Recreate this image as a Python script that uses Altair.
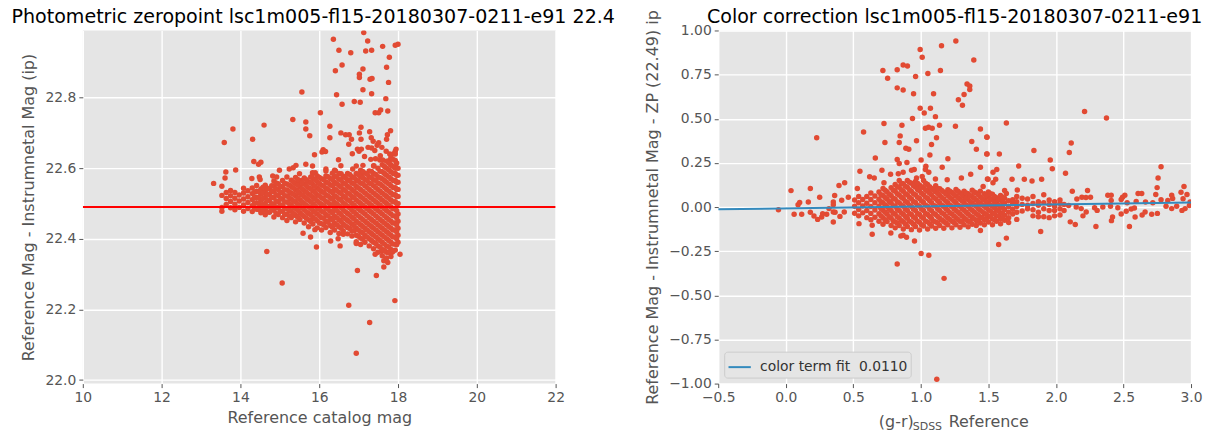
import altair as alt
import pandas as pd

# ---------- left panel: catalog magnitude vs zeropoint ----------
zp_outlier_mag = [16.36,17.13,17.23,17.61,16.50,16.80,17.18,17.33,17.93,18.0,17.78,16.58,16.41,17.11,17.71,17.02,17.02,17.29,17.34,17.76,17.11,15.56,16.44,17.33,17.69,16.89,17.04,16.58,17.56,17.51,17.42,17.74,16.03,15.33,15.66,14.60,13.81,15.66,16.27,17.06,17.81,17.28,17.02,16.55,16.67,16.76,15.76,16.27,17.73,17.71,16.82,17.06,17.32,17.37,14.31,13.59,16.75,17.51,17.47,17.24,17.33,17.59,16.97,17.07,17.01,17.41,16.10,16.07,16.16,17.95,17.93,17.70,17.89,17.79,15.88,16.84,17.15,17.55,16.49,17.31,17.43,17.54,17.61,17.78,14.34,14.52,14.46,15.66,17.11,17.38,13.88,13.63,13.61,13.32,15.41,15.34,15.24,15.83,16.55,16.17,16.41,16.94,16.85,17.39,17.82,17.95,14.99,15.83,15.90,15.50,17.08,14.29,14.48,14.50,14.82,15.18,14.92,15.54,
    15.59,15.78,15.89,15.93,16.29,16.48,16.53,16.61,16.94,17.42,18.05,17.64,17.74,17.64,16.97,17.45,14.67,15.06,17.92,16.75,17.28,16.94,17.58,17.85]
zp_outlier_val = [22.965,22.984,22.96,22.945,22.934,22.927,22.932,22.934,22.948,22.951,22.914,22.892,22.876,22.881,22.886,22.866,22.857,22.852,22.854,22.843,22.822,22.816,22.808,22.811,22.797,22.789,22.787,22.781,22.765,22.757,22.757,22.762,22.757,22.738,22.731,22.722,22.711,22.711,22.719,22.716,22.706,22.703,22.70,22.70,22.695,22.695,22.692,22.686,22.695,22.682,22.682,22.682,22.686,22.676,22.682,22.673,22.668,22.672,22.665,22.659,22.657,22.659,22.654,22.654,22.648,22.65,22.652,22.646,22.647,22.654,22.648,22.648,22.641,22.64,22.638,22.641,22.633,22.635,22.624,22.625,22.627,22.623,22.623,22.622,22.619,22.617,22.611,22.611,22.608,22.607,22.595,22.589,22.572,22.557,22.608,22.601,22.598,22.606,22.607,22.598,22.593,22.606,22.598,22.606,22.608,22.603,22.594,22.587,22.587,22.584,22.584,22.571,22.575,22.568,22.578,22.575,22.575,22.565,
    22.416,22.405,22.426,22.377,22.394,22.40,22.38,22.413,22.387,22.356,22.356,22.338,22.333,22.32,22.31,22.296,22.364,22.275,22.225,22.212,22.163,22.076,22.365,22.362]

zp_core = {
13.53:[22.478,22.489,22.523,22.549],
13.64:[22.497,22.514,22.531],
13.75:[22.488,22.506,22.522,22.537],
13.86:[22.482,22.498,22.515,22.531],
13.97:[22.489,22.507,22.524],
14.08:[22.478,22.496,22.513,22.53,22.543],
14.19:[22.486,22.503,22.519,22.536],
14.30:[22.477,22.494,22.511,22.528,22.544],
14.41:[22.484,22.502,22.518,22.535,22.551],
14.52:[22.474,22.492,22.509,22.526,22.541],
14.63:[22.468,22.483,22.5,22.517,22.534,22.552],
14.74:[22.475,22.491,22.508,22.525,22.542],
14.85:[22.462,22.481,22.498,22.516,22.533,22.549,22.564],
14.96:[22.469,22.487,22.505,22.523,22.54,22.556],
15.07:[22.46,22.478,22.495,22.512,22.53,22.547,22.565],
15.18:[22.452,22.47,22.486,22.504,22.521,22.538,22.555],
15.29:[22.46,22.478,22.496,22.513,22.53,22.548,22.566],
15.40:[22.448,22.466,22.486,22.504,22.522,22.539,22.557,22.574],
15.51:[22.455,22.474,22.493,22.511,22.529,22.547,22.563],
15.62:[22.445,22.463,22.482,22.5,22.519,22.537,22.555,22.572],
15.73:[22.434,22.454,22.472,22.491,22.509,22.527,22.545,22.562],
15.84:[22.442,22.461,22.48,22.499,22.518,22.536,22.554,22.571,22.585],
15.95:[22.431,22.451,22.47,22.488,22.507,22.525,22.544,22.562,22.578],
16.06:[22.425,22.443,22.46,22.478,22.497,22.516,22.534,22.552,22.57],
16.17:[22.432,22.45,22.469,22.488,22.506,22.525,22.543,22.561,22.578,22.592],
16.28:[22.418,22.438,22.458,22.478,22.497,22.516,22.535,22.553,22.571],
16.39:[22.425,22.445,22.465,22.484,22.503,22.522,22.541,22.56,22.578,22.594],
16.50:[22.415,22.434,22.454,22.474,22.494,22.513,22.532,22.551,22.569,22.585],
16.61:[22.422,22.442,22.462,22.482,22.502,22.521,22.54,22.558,22.577],
16.72:[22.414,22.432,22.452,22.472,22.492,22.511,22.53,22.549,22.567,22.585],
16.83:[22.408,22.422,22.442,22.461,22.481,22.501,22.52,22.54,22.558,22.576],
16.94:[22.392,22.41,22.43,22.45,22.47,22.49,22.51,22.529,22.548,22.567,22.585],
17.05:[22.384,22.402,22.42,22.44,22.46,22.48,22.5,22.52,22.54,22.558,22.576,22.594],
17.16:[22.39,22.41,22.43,22.45,22.47,22.49,22.51,22.53,22.55,22.568,22.586],
17.27:[22.38,22.4,22.42,22.44,22.46,22.48,22.5,22.52,22.54,22.558,22.576,22.592],
17.38:[22.372,22.39,22.41,22.43,22.45,22.47,22.49,22.51,22.53,22.55,22.567,22.585],
17.49:[22.362,22.38,22.4,22.42,22.44,22.46,22.48,22.5,22.52,22.54,22.558,22.576,22.6],
17.60:[22.352,22.37,22.39,22.41,22.43,22.45,22.47,22.49,22.51,22.53,22.55,22.57,22.59,22.61],
17.71:[22.346,22.362,22.38,22.4,22.42,22.44,22.46,22.48,22.5,22.52,22.54,22.56,22.58,22.6,22.62],
17.82:[22.35,22.37,22.39,22.41,22.43,22.45,22.47,22.49,22.51,22.53,22.55,22.57,22.59,22.61,22.63],
17.93:[22.368,22.385,22.405,22.425,22.445,22.465,22.485,22.505,22.525,22.545,22.565,22.585,22.6,22.622,22.64],
18.00:[22.39,22.41,22.43,22.45,22.47,22.5,22.52,22.54,22.56,22.58,22.6],
14.355:[22.485,22.50,22.516,22.532],
14.465:[22.483,22.50,22.517,22.534],
14.575:[22.48,22.497,22.514,22.53,22.546],
14.685:[22.476,22.492,22.51,22.527,22.543],
14.795:[22.482,22.499,22.517,22.534,22.55],
14.905:[22.472,22.49,22.507,22.525,22.542,22.558],
15.015:[22.478,22.496,22.514,22.532,22.549],
15.125:[22.469,22.487,22.504,22.522,22.539,22.557],
15.235:[22.465,22.482,22.5,22.517,22.534,22.552],
15.345:[22.472,22.49,22.508,22.526,22.544,22.561],
15.455:[22.461,22.48,22.498,22.516,22.534,22.552,22.568],
15.565:[22.468,22.487,22.505,22.524,22.542,22.559],
15.675:[22.458,22.477,22.495,22.514,22.532,22.55,22.567],
15.785:[22.449,22.468,22.486,22.505,22.523,22.541,22.559,22.575],
15.895:[22.456,22.475,22.494,22.513,22.531,22.549,22.567],
16.005:[22.445,22.465,22.484,22.502,22.521,22.539,22.557,22.574],
16.115:[22.44,22.458,22.475,22.493,22.512,22.531,22.549,22.567],
16.225:[22.447,22.465,22.484,22.503,22.521,22.54,22.558,22.576],
16.335:[22.433,22.453,22.473,22.493,22.512,22.531,22.55,22.568,22.586],
16.445:[22.44,22.46,22.48,22.499,22.518,22.537,22.556,22.575],
16.555:[22.43,22.449,22.469,22.489,22.509,22.528,22.547,22.566,22.584],
16.665:[22.437,22.457,22.477,22.497,22.517,22.536,22.555,22.573],
16.775:[22.429,22.447,22.467,22.487,22.507,22.526,22.545,22.564,22.582],
16.885:[22.423,22.437,22.457,22.476,22.496,22.516,22.535,22.555,22.573],
16.995:[22.407,22.425,22.445,22.465,22.485,22.505,22.525,22.544,22.563,22.582],
17.105:[22.399,22.417,22.435,22.455,22.475,22.495,22.515,22.535,22.555,22.573,22.591],
17.215:[22.405,22.425,22.445,22.465,22.485,22.505,22.525,22.545,22.565,22.583],
17.325:[22.395,22.415,22.435,22.455,22.475,22.495,22.515,22.535,22.555,22.573,22.591],
17.435:[22.387,22.405,22.425,22.445,22.465,22.485,22.505,22.525,22.545,22.565,22.582],
17.545:[22.377,22.395,22.415,22.435,22.455,22.475,22.495,22.515,22.535,22.555,22.573,22.591],
17.655:[22.367,22.385,22.405,22.425,22.445,22.465,22.485,22.505,22.525,22.545,22.565,22.585,22.605],
17.765:[22.361,22.377,22.395,22.415,22.435,22.455,22.475,22.495,22.515,22.535,22.555,22.575,22.595,22.615],
17.875:[22.365,22.385,22.405,22.425,22.445,22.465,22.485,22.505,22.525,22.545,22.565,22.585,22.605,22.625],
17.965:[22.383,22.4,22.42,22.44,22.46,22.48,22.5,22.52,22.54,22.56,22.58,22.615],
}
zp_line_mag = [10, 22]
zp_line_val = [22.49, 22.49]

# ---------- right panel: colour vs residual ----------
ct_outlier_col = [0.995,1.01,1.153,1.259,1.392,0.869,0.901,0.825,0.719,0.754,0.961,1.052,1.145,0.825,0.869,0.946,1.094,1.342,1.362,1.362,1.32,1.278,1.308,0.995,1.071,1.025,1.108,0.938,0.727,0.86,1.138,1.256,1.034,1.057,1.084,1.441,0.576,1.488,0.229,0.847,1.116,0.968,0.734,0.84,1.377,1.079,0.889,0.911,1.411,1.488,1.067,0.663,0.825,1.002,1.2,0.84,0.897,1.441,1.037,1.158,0.549,0.712,0.931,0.951,1.034,1.059,1.369,0.621,0.655,0.776,0.833,0.869,0.968,1.01,1.108,1.3,1.195,1.493,0.436,0.394,0.727,0.182,0.039,0.53,0.251,0.362,0.463,
    0.091,0.103,0.167,0.352,0.352,0.414,-0.054,0.062,0.118,0.182,0.209,0.236,0.266,0.273,0.303,0.32,0.352,0.365,0.352,0.401,0.433,0.542,0.64,0.64,0.778,0.852,0.869,0.894,0.953,1.002,1.059,0.825,1.172,1.118,
    2.212,2.374,1.633,1.49,2.113,2.099,1.49,1.581,1.837,1.958,1.973,1.724,1.534,1.562,2.071,2.778,1.498,1.554,1.534,1.675,1.766,1.823,1.894,2.756,2.749,2.948,2.121,2.234,1.461,1.714,1.62,1.633,2.926,2.739,2.97,2.608,2.635,2.51,2.384,2.409,2.493,2.857,2.864,2.155,2.192,2.222,2.256,2.409,2.483,2.527,2.594,2.663,2.717,2.778,2.828,2.941,2.993,
    2.106,2.143,2.296,2.544,1.887,1.633,1.576,1.441,2.411,2.419,2.586,2.483,2.638,2.66,2.709,2.751,2.52,2.557,2.581,2.815,2.857,2.894,2.933,2.956,2.988,2.2,2.224,2.187,2.15,2.094,2.286,2.305,2.347,2.404,2.458]
ct_outlier_val = [0.892,0.848,0.914,0.94,0.833,0.805,0.799,0.778,0.773,0.729,0.739,0.756,0.773,0.675,0.663,0.642,0.642,0.697,0.686,0.665,0.637,0.608,0.576,0.559,0.559,0.533,0.512,0.501,0.473,0.463,0.463,0.458,0.446,0.452,0.446,0.442,0.425,0.397,0.392,0.403,0.392,0.376,0.365,0.365,0.371,0.354,0.333,0.327,0.327,0.301,0.295,0.278,0.269,0.267,0.273,0.246,0.252,0.225,0.231,0.225,0.203,0.208,0.208,0.212,0.212,0.197,0.186,0.171,0.165,0.186,0.188,0.197,0.165,0.173,0.159,0.165,0.154,0.159,0.137,0.122,0.137,0.105,0.093,0.105,0.056,0.065,0.056,
    0.013,0.026,0.028,0.028,0.013,0.038,-0.015,-0.041,-0.041,-0.03,-0.051,-0.07,-0.056,-0.038,-0.041,-0.009,-0.028,-0.03,-0.085,-0.053,-0.028,-0.094,-0.154,-0.103,-0.147,-0.164,-0.16,-0.171,-0.192,-0.263,-0.273,-0.323,-0.404,-0.975,
    0.541,0.504,0.476,0.395,0.363,0.309,0.30,0.30,0.32,0.266,0.217,0.232,0.197,0.212,0.191,0.228,0.157,0.157,0.137,0.157,0.157,0.148,0.157,0.165,0.11,0.116,0.09,0.094,0.116,0.097,0.094,0.077,0.084,0.071,0.071,0.077,0.077,0.067,0.067,0.067,0.056,0.067,0.049,0.045,0.056,0.054,0.056,0.037,0.043,0.024,0.032,0.028,0.024,0.041,0.037,0.047,0.028,
    -0.084,-0.099,-0.11,-0.11,-0.139,-0.176,-0.212,-0.133,-0.077,-0.056,-0.056,-0.039,-0.045,-0.028,-0.041,-0.036,-0.024,-0.011,-0.006,0.004,-0.009,0.004,-0.019,-0.009,0.009,-0.05,-0.028,-0.009,0.0,0.009,-0.004,-0.019,0.0,0.004,-0.004]

ct_core = {
0.51:[-.035,.005,.04],
0.54:[-.05,-.014,.024,.06],
0.57:[-.033,.006,.043],
0.60:[-.06,-.02,.021,.06],
0.63:[-.072,-.036,.003,.043,.08],
0.66:[-.058,-.017,.024,.062],
0.69:[-.08,-.038,.005,.044,.085],
0.72:[-.098,-.06,-.018,.024,.065,.105],
0.75:[-.082,-.04,.003,.046,.087],
0.78:[-.104,-.062,-.02,.024,.066,.11],
0.81:[-.118,-.084,-.04,.004,.046,.09,.128],
0.84:[-.105,-.062,-.02,.025,.068,.112,.15],
0.87:[-.125,-.083,-.041,.004,.048,.09,.132],
0.90:[-.11,-.064,-.02,.026,.07,.112,.15],
0.93:[-.128,-.086,-.042,.003,.047,.09,.135],
0.96:[-.11,-.064,-.02,.026,.07,.113,.145],
0.99:[-.13,-.086,-.042,.004,.048,.092,.125],
1.02:[-.108,-.064,-.02,.026,.07,.11,.15],
1.05:[-.125,-.084,-.042,.005,.048,.09,.128],
1.08:[-.108,-.065,-.021,.025,.068,.105],
1.11:[-.12,-.084,-.042,.004,.047,.087,.12],
1.14:[-.104,-.063,-.02,.024,.066,.104],
1.17:[-.12,-.082,-.04,.003,.045,.085],
1.20:[-.1,-.062,-.02,.024,.065,.098],
1.23:[-.118,-.08,-.04,.003,.046,.082],
1.26:[-.1,-.06,-.02,.024,.063,.1],
1.29:[-.115,-.08,-.04,.004,.044,.08],
1.32:[-.1,-.06,-.018,.024,.06,.09],
1.35:[-.112,-.08,-.04,.004,.042,.076],
1.38:[-.097,-.058,-.018,.023,.06,.095],
1.41:[-.105,-.076,-.038,.004,.04,.08],
1.44:[-.09,-.056,-.018,.022,.058,.09],
1.47:[-.1,-.072,-.036,.004,.04,.075],
1.50:[-.085,-.052,-.016,.022,.056,.085],
1.53:[-.1,-.068,-.034,.004,.04,.072],
1.56:[-.08,-.05,-.016,.02,.052],
1.59:[-.095,-.066,-.032,.003,.038,.066],
1.62:[-.075,-.046,-.014,.02,.05],
1.65:[-.088,-.06,-.03,.003,.036],
1.68:[-.04,-.012,.02,.042],
1.71:[-.07,-.03,.003,.03,.06],
1.75:[-.022,.015,.05],
1.79:[-.01,.01,.045],
1.83:[-.05,-.015,.02,.06],
1.87:[-.055,-.03,.01,.03],
1.91:[-.055,-.01,.025,.07],
1.95:[-.06,-.02,.015,.04],
1.99:[-.05,-.02,.005,.03],
2.03:[-.045,-.01,.02,.04],
2.06:[-.02,.015],
0.705:[-.05,-.01,.03,.07],
0.735:[-.072,-.03,.012,.054,.095],
0.765:[-.055,-.012,.031,.072],
0.795:[-.078,-.035,.008,.05,.095],
0.825:[-.09,-.055,-.012,.03,.075,.115],
0.855:[-.076,-.033,.012,.055,.098,.135],
0.885:[-.096,-.054,-.012,.033,.075,.118],
0.915:[-.08,-.036,.01,.056,.098,.14],
0.945:[-.098,-.056,-.013,.032,.076,.12],
0.975:[-.08,-.036,.01,.056,.1,.135],
1.005:[-.1,-.056,-.012,.034,.078,.115],
1.035:[-.08,-.036,.01,.056,.098,.135],
1.065:[-.095,-.054,-.012,.035,.078,.115],
1.095:[-.08,-.036,.009,.054,.095],
1.125:[-.09,-.054,-.012,.034,.077,.105],
1.155:[-.074,-.033,.01,.054,.094],
1.185:[-.09,-.052,-.01,.033,.075],
1.215:[-.07,-.032,.01,.054,.09],
1.245:[-.088,-.05,-.01,.033,.072],
1.275:[-.07,-.03,.01,.052,.09],
1.305:[-.085,-.05,-.01,.034,.07],
1.335:[-.07,-.03,.012,.05,.08],
1.365:[-.082,-.05,-.01,.032,.066],
1.395:[-.067,-.028,.012,.05,.085],
1.425:[-.075,-.046,-.008,.03,.07],
1.455:[-.06,-.026,.012,.048],
1.485:[-.07,-.042,-.006,.03,.065],
1.515:[-.055,-.022,.012,.046,.075],
1.545:[-.07,-.038,-.004,.03,.06],
1.575:[-.05,-.02,.01,.042],
1.605:[-.065,-.036,-.002,.028,.056],
}
fit_col = [-0.5, 3.0]
fit_val = [-0.013, 0.0255]
fit_name = "color term fit\u00a0\u00a00.0110"

title_left = "Photometric zeropoint lsc1m005-fl15-20180307-0211-e91 22.4"
title_right = "Color correction lsc1m005-fl15-20180307-0211-e91"
xlabel_left = "Reference catalog mag"
ylabel_left = "Reference Mag - Instrumnetal Mag (ip)"
ylabel_right = "Reference Mag - Instrumnetal Mag - ZP (22.49) ip"

RED = "#E24A33"
BLUE = "#348ABD"
GREY = "#555555"
FONT = "DejaVu Sans"
W, H = 474, 354


def table(xs, ys, core):
    rows = [{"x": a, "y": b} for a, b in zip(xs, ys)]
    for a, col in core.items():
        rows += [{"x": a, "y": b} for b in col]
    return pd.DataFrame(rows)


def axis(values, fmt, title, padding):
    return alt.Axis(values=values, format=fmt, title=title, titlePadding=padding,
                    grid=True, gridColor="white", gridWidth=1.4, domain=False,
                    tickColor=GREY, tickSize=4, tickWidth=1, labelColor=GREY,
                    labelFontSize=13.9, labelFont=FONT, titleColor=GREY,
                    titleFontSize=16, titleFont=FONT, titleFontWeight="normal",
                    labelPadding=3, labelFlush=False)


def text_mark(text, x, y, size, color=GREY, align="left"):
    return alt.Chart(pd.DataFrame({"t": [text]})).mark_text(
        align=align, baseline="alphabetic", font=FONT, fontSize=size, color=color).encode(
        x=alt.value(x), y=alt.value(y), text="t:N")


left_x = alt.X("x:Q", scale=alt.Scale(domain=[10, 22], nice=False),
               axis=axis([10, 12, 14, 16, 18, 20, 22], "d", xlabel_left, 5))
left_y = alt.Y("y:Q", scale=alt.Scale(domain=[21.99, 22.99], nice=False),
               axis=axis([22.0, 22.2, 22.4, 22.6, 22.8], ".1f", ylabel_left, 9))

left_pts = alt.Chart(table(zp_outlier_mag, zp_outlier_val, zp_core)).mark_circle(
    size=30, opacity=1, color=RED, clip=True).encode(x=left_x, y=left_y)
left_line = alt.Chart(pd.DataFrame({"x": zp_line_mag, "y": zp_line_val})).mark_line(
    color="#FF0000", strokeWidth=2, clip=True).encode(x="x:Q", y="y:Q")
left = alt.layer(left_pts, left_line, text_mark(title_left, W / 2 - 6, -7.5, 19.1, "black", "center")
                 ).properties(width=W, height=H)

right_x = alt.X("x:Q", scale=alt.Scale(domain=[-0.5, 3], nice=False),
                axis=axis([-0.5, 0, 0.5, 1, 1.5, 2, 2.5, 3], ".1f", None, 5))
right_y = alt.Y("y:Q", scale=alt.Scale(domain=[-1, 1], nice=False),
                axis=axis([-1, -0.75, -0.5, -0.25, 0, 0.25, 0.5, 0.75, 1], ".2f", ylabel_right, 8))

right_pts = alt.Chart(table(ct_outlier_col, ct_outlier_val, ct_core)).mark_circle(
    size=30, opacity=1, color=RED, clip=True).encode(x=right_x, y=right_y)
right_line = alt.Chart(pd.DataFrame({"x": fit_col, "y": fit_val, "s": [fit_name, fit_name]})).mark_line(
    strokeWidth=2, clip=True).encode(
    x="x:Q", y="y:Q",
    color=alt.Color("s:N", scale=alt.Scale(domain=[fit_name], range=[BLUE]),
                    legend=alt.Legend(title=None, orient="bottom-left", offset=6,
                                      fillColor="#E5E5E5", strokeColor="#CCCCCC",
                                      cornerRadius=3, padding=3, labelColor="#333333",
                                      labelFontSize=13.9, labelFont=FONT, labelLimit=300,
                                      symbolType="stroke", symbolStrokeWidth=2,
                                      symbolSize=500, labelOffset=8)))

right = alt.layer(
    right_pts, right_line,
    text_mark(title_right, W / 2, -7.5, 19.1, "black", "center"),
    text_mark("(g-r)", 161, 398, 16),
    text_mark("SDSS", 195, 401, 11),
    text_mark("Reference", 231, 398, 16),
).properties(width=W, height=H)

chart = alt.hconcat(
    left, right, spacing=163, bounds="flush",
    padding={"left": 3, "top": -1, "right": 0, "bottom": 0},
    background="white",
).configure_view(fill="#E5E5E5", stroke=None).resolve_scale(color="independent")

chart.save("out.html", embed_options={"renderer": "svg", "actions": False})
